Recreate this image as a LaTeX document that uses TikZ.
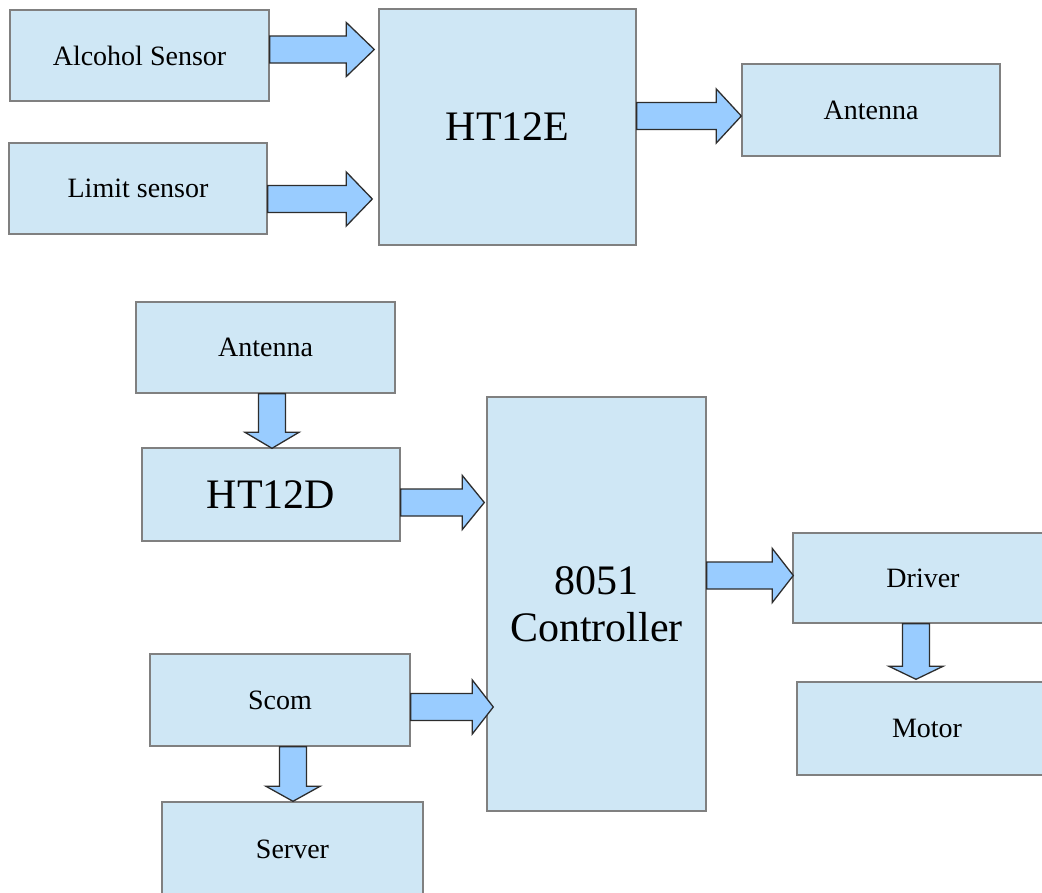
\documentclass[tikz,border=0pt]{standalone}
\usepackage{fontspec}
\setmainfont{Liberation Serif}
\newfontfamily\lserif{Liberation Serif}
\usetikzlibrary{calc}
\definecolor{boxfill}{RGB}{207,231,245}
\definecolor{boxline}{RGB}{128,128,128}
\definecolor{arrfill}{RGB}{153,204,255}
\definecolor{arrline}{RGB}{45,45,45}
\tikzset{
  blk/.style={draw=boxline, fill=boxfill, line width=1.4pt, inner sep=0pt, align=center,
    font=\lserif\fontsize{28}{32}\selectfont},
  bigblk/.style={blk, font=\lserif\fontsize{42}{47}\selectfont},
  barrow/.style={draw=arrline, fill=arrfill, line width=1.3pt, line join=miter}
}
% right-pointing block arrow: #1 source anchor, #2 tip, #3 head length
\newcommand{\blkR}[3]{\draw[barrow] let \p1=(#1), \p2=(#2) in
  (\x1,\y2+13.5pt) -- (\x2-#3pt,\y2+13.5pt) -- (\x2-#3pt,\y2+27pt) -- (\x2,\y2)
  -- (\x2-#3pt,\y2-27pt) -- (\x2-#3pt,\y2-13.5pt) -- (\x1,\y2-13.5pt) -- cycle;}
% downward block arrow
\newcommand{\blkD}[3]{\draw[barrow] let \p1=(#1), \p2=(#2) in
  (\x2-13.5pt,\y1) -- (\x2-13.5pt,\y2+#3pt) -- (\x2-27pt,\y2+#3pt) -- (\x2,\y2)
  -- (\x2+27pt,\y2+#3pt) -- (\x2+13.5pt,\y2+#3pt) -- (\x2+13.5pt,\y1) -- cycle;}
\begin{document}
\begin{tikzpicture}[x=1pt,y=-1pt]
\useasboundingbox (0,0) rectangle (1042,892);
\fill[white] (0,0) rectangle (1042,892);
% boxes
\node[blk, minimum width=259, minimum height=91] (alc) at (139.5,55.5) {Alcohol Sensor};
\node[blk, minimum width=258, minimum height=91] (lim) at (138,188.5) {Limit sensor};
\node[bigblk, minimum width=257, minimum height=236] (ht12e) at (507.5,127) {HT12E};
\node[blk, minimum width=258, minimum height=92] (ant1) at (871,110) {Antenna};
\node[blk, minimum width=259, minimum height=91] (ant2) at (265.5,347.5) {Antenna};
\node[bigblk, minimum width=258, minimum height=93] (ht12d) at (271,494.5) {HT12D};
\node[bigblk, minimum width=219, minimum height=414] (ctrl) at (596.5,604) {8051\\Controller};
\node[blk, minimum width=260, minimum height=90] (drv) at (923,578) {Driver};
\node[blk, minimum width=260, minimum height=93] (mot) at (927,728.5) {Motor};
\node[blk, minimum width=260, minimum height=92] (scom) at (280,700) {Scom};
\node[blk, minimum width=261, minimum height=94] (srv) at (292.5,849) {Server};
% block arrows
\blkR{alc.east}{$(ht12e.west)+(-4,-77.5)$}{28}
\blkR{lim.east}{$(ht12e.west)+(-6,72)$}{26}
\blkR{ht12e.east}{$(ant1.west)+(0,6)$}{25}
\blkD{ant2.south}{$(ht12d.north)+(1,1)$}{16}
\blkR{ht12d.east}{$(ctrl.west)+(-2,-101.5)$}{22}
\blkR{ctrl.east}{$(drv.west)+(1,-2.5)$}{21}
\blkR{scom.east}{$(ctrl.west)+(7,103)$}{21}
\blkD{scom.south}{$(srv.north)+(0.5,0)$}{15}
\blkD{drv.south}{$(mot.north)+(-11,-2)$}{13}
\end{tikzpicture}
\end{document}
